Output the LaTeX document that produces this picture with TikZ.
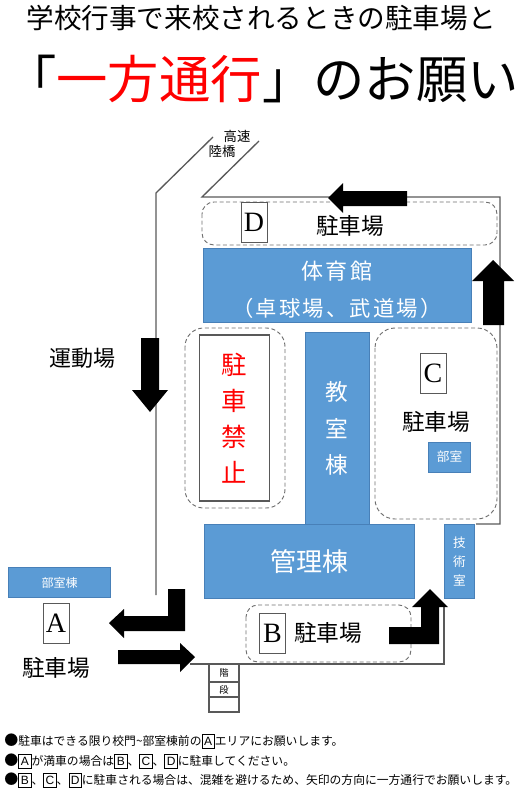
\documentclass[tikz,border=0pt]{standalone}
\usepackage{fontspec}
\setmainfont{Noto Sans CJK JP}
\newfontfamily\latinserif{Liberation Serif}
\newfontfamily\latinsans{Liberation Sans}
\newfontfamily\widejp[LetterSpace=10]{Noto Sans CJK JP}
\usepackage{tikz}
\usetikzlibrary{positioning,calc}
\definecolor{schoolBlue}{RGB}{91,155,213}
\definecolor{schoolEdge}{RGB}{72,128,184}
\definecolor{roadGray}{RGB}{89,89,89}
\definecolor{lotGray}{RGB}{110,110,110}
\newcommand{\fsz}[2]{\fontsize{#1}{#2}\selectfont}
\newcommand{\boxlet}[1]{\tikz[baseline=(b.base)]\node[draw=black,line width=0.5pt,inner sep=0pt,minimum width=9.5pt,minimum height=10.5pt,font=\latinsans\fsz{9}{10}] (b) {#1};}
\newcommand{\bull}{{\fsz{10.5}{11}●}}
\tikzset{
  road/.style={draw=roadGray,line width=1pt},
  building/.style={draw=schoolEdge,fill=schoolBlue,line width=0.6pt,text=white,align=center,inner sep=0pt},
  lot/.style={draw=lotGray,densely dashed,line width=0.7pt,rounded corners=9pt},
  letterbox/.style={draw=roadGray,fill=white,line width=0.6pt,font=\latinserif\fsz{21}{24}},
  parking/.style={font=\fsz{17}{20}},
  bigarrow/.style={fill=black,draw=none},
  notice/.style={anchor=west,inner sep=0pt,font=\fsz{8.85}{11}}
}
\begin{document}
\begin{tikzpicture}[x=0.75pt,y=-0.75pt]
  \useasboundingbox (0,0) rectangle (523,792);
  % Title
  \node[font=\fsz{20.7}{24}] (title1) at (261,18) {学校行事で来校されるときの駐車場と};
  \node[font=\fsz{38.5}{42}] (title2) at (262,79) {「\textcolor{red}{一方通行}」のお願い};
  % Roads
  \draw[road] (213,137) -- (156,193) -- (156,595);
  \draw[road] (259,141) -- (202,197) -- (500,197) -- (500,524) -- (476,524);
  \draw[road] (190,664) -- (444,664) -- (444,607);
  \node[font=\fsz{10}{12}] (kosoku) at (237,136) {高速};
  \node[font=\fsz{10}{12}] (rikkyo) at (222,151) {陸橋};
  \node[font=\fsz{16.5}{18}] (undojo) at (82,358) {運動場};
  % Lot D
  \draw[lot] (202,202) rectangle (497,245);
  \node[letterbox,minimum width=19.5pt,minimum height=30.5pt,inner sep=0pt] (boxD) at (254,222.5) {D};
  \node[parking] (lotD) at (350,226) {駐車場};
  % Gymnasium
  \node[building,minimum width=201pt,minimum height=55.5pt] (gym) at (337,285) {};
  \node[text=white,font=\widejp\fsz{16.5}{20}] (gymA) at (337,271) {体育館};
  \node[text=white,font=\widejp\fsz{16}{20}] (gymB) at (337,308) {（卓球場、武道場）};
  % No parking
  \draw[lot,rounded corners=14pt] (185,328) rectangle (285,508);
  \node[draw=roadGray,line width=0.8pt,minimum width=53pt,minimum height=124.5pt,inner sep=0pt,
        text=red,align=center,font=\fsz{19}{27}] (nopark) at (234.5,418) {駐\\車\\禁\\止};
  % Classroom wing
  \node[building,minimum width=48pt,minimum height=144pt,font=\fsz{17}{27.4}] (classroom) at (337,428.5) {教\\室\\棟};
  % Lot C
  \draw[lot,rounded corners=15pt] (375,328) rectangle (497,519);
  \node[letterbox,minimum width=19.5pt,minimum height=30.5pt,inner sep=0pt] (boxC) at (433,373.5) {C};
  \node[parking] (lotC) at (436,422) {駐車場};
  \node[building,minimum width=32pt,minimum height=22.5pt,font=\fsz{9.5}{12}] (clubC) at (449.5,457) {部室};
  % Admin wing and tech room
  \node[building,minimum width=158pt,minimum height=55pt,font=\fsz{19.5}{24}] (admin) at (309.5,561.5) {管理棟};
  \node[building,minimum width=23pt,minimum height=55pt,font=\fsz{9.5}{14}] (tech) at (459.5,561.5) {技\\術\\室};
  % Lot A
  \node[building,minimum width=76pt,minimum height=23pt,font=\fsz{9}{12}] (clubA) at (59.5,582.5) {部室棟};
  \node[letterbox,minimum width=19.5pt,minimum height=30pt,inner sep=0pt] (boxA) at (56,623) {A};
  \node[parking] (lotA) at (56,668) {駐車場};
  % Lot B
  \draw[lot] (246,605) rectangle (411,662);
  \node[letterbox,minimum width=19pt,minimum height=30.5pt,inner sep=0pt] (boxB) at (272.5,633.5) {B};
  \node[parking] (lotB) at (328,633) {駐車場};
  % Stairs
  \node[draw=roadGray,line width=0.8pt,minimum width=22.5pt,minimum height=13.5pt,inner sep=0pt,font=\fsz{7}{8}] (stairA) at (224,673) {階};
  \node[draw=roadGray,line width=0.8pt,minimum width=22.5pt,minimum height=11.25pt,inner sep=0pt,font=\fsz{7}{8}] (stairB) at (224,689.5) {段};
  \node[draw=roadGray,line width=0.8pt,minimum width=22.5pt,minimum height=11.25pt,inner sep=0pt] (stairC) at (224,704.5) {};
  % Arrows
  \fill[bigarrow] (407,191) -- (343,191) -- (343,183) -- (328,198) -- (343,213) -- (343,206) -- (407,206) -- cycle;
  \fill[bigarrow] (483,325) -- (483,281) -- (472,281) -- (493,260) -- (514,281) -- (504,281) -- (504,325) -- cycle;
  \fill[bigarrow] (141,338) -- (159,338) -- (159,390) -- (168,390) -- (150,412) -- (132,390) -- (141,390) -- cycle;
  \fill[bigarrow] (168,589) -- (185,589) -- (185,631) -- (124,631) -- (124,638) -- (109,623) -- (124,609) -- (124,616) -- (168,616) -- cycle;
  \fill[bigarrow] (118,650) -- (180,650) -- (180,643) -- (195,657) -- (180,672) -- (180,664) -- (118,664) -- cycle;
  \fill[bigarrow] (389,627) -- (421,627) -- (421,607) -- (412,607) -- (430,589) -- (448,607) -- (439,607) -- (439,644) -- (389,644) -- cycle;
  % Notes
  \node[notice] (note1) at (4,741) {\bull 駐車はできる限り校門\textasciitilde 部室棟前の\boxlet{A}エリアにお願いします。};
  \node[notice] (note2) at (4,761) {\bull\boxlet{A}が満車の場合は\boxlet{B}、\boxlet{C}、\boxlet{D}に駐車してください。};
  \node[notice] (note3) at (4,780) {\bull\boxlet{B}、\boxlet{C}、\boxlet{D}に駐車される場合は、混雑を避けるため、矢印の方向に一方通行でお願いします。};
\end{tikzpicture}
\end{document}
